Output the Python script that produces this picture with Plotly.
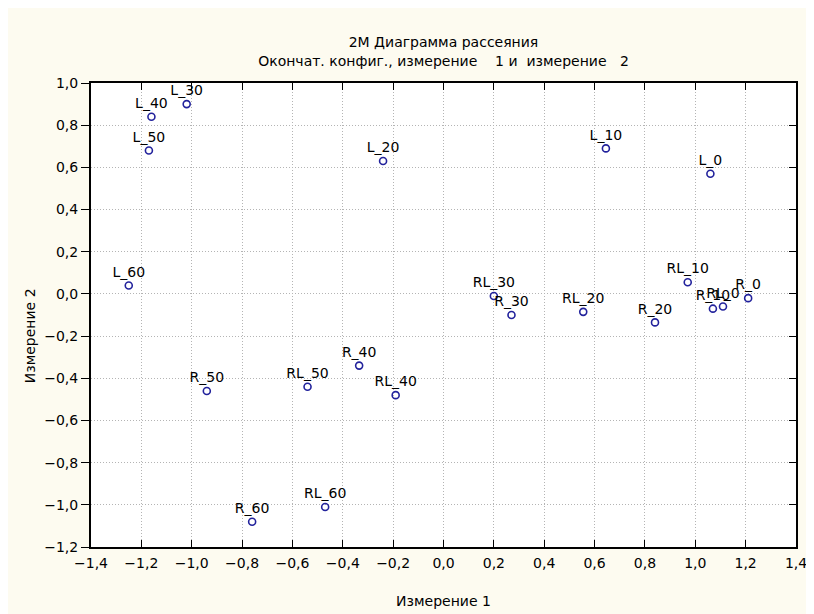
import plotly.graph_objects as go

labels = ["L_0", "L_10", "L_20", "L_30", "L_40", "L_50", "L_60",
          "R_0", "R_10", "R_20", "R_30", "R_40", "R_50", "R_60",
          "RL_0", "RL_10", "RL_20", "RL_30", "RL_40", "RL_50", "RL_60"]
dim1 = [1.06, 0.645, -0.24, -1.02, -1.16, -1.17, -1.25,
        1.21, 1.07, 0.84, 0.27, -0.335, -0.94, -0.76,
        1.11, 0.97, 0.555, 0.20, -0.19, -0.54, -0.47]
dim2 = [0.57, 0.69, 0.63, 0.90, 0.84, 0.68, 0.04,
        -0.02, -0.07, -0.135, -0.10, -0.34, -0.46, -1.08,
        -0.06, 0.055, -0.085, -0.01, -0.48, -0.44, -1.01]

x_ticks = [-1.4, -1.2, -1.0, -0.8, -0.6, -0.4, -0.2, 0.0, 0.2, 0.4, 0.6, 0.8, 1.0, 1.2, 1.4]
y_ticks = [1.0, 0.8, 0.6, 0.4, 0.2, 0.0, -0.2, -0.4, -0.6, -0.8, -1.0, -1.2]

nb = "\u00a0"
title_text = ("2M Диаграмма рассеяния<br>"
              "Окончат. конфиг., измерение" + nb * 4 + "1 и" + nb * 2 + "измерение" + nb * 3 + "2")
x_title = "Измерение 1"
y_title = "Измерение 2"

wide = "DejaVu Sans, Verdana, sans-serif"

fig = go.Figure()
fig.add_trace(go.Scatter(
    x=dim1, y=dim2, text=labels, mode="markers+text",
    textposition="top center",
    textfont=dict(family=wide, size=14, color="#000000"),
    marker=dict(symbol="circle-open", size=7, color="#22229c", line=dict(width=1.6, color="#22229c")),
    cliponaxis=False, showlegend=False,
))
# invisible trace to draw a right-side axis with inward ticks
fig.add_trace(go.Scatter(x=[dim1[0]], y=[dim2[0]], yaxis="y2", mode="markers",
                         marker=dict(opacity=0), showlegend=False, hoverinfo="skip"))

grid_dash = "1px,2px"

fig.update_layout(
    width=806, height=606,
    margin=dict(l=83, r=7, t=75, b=65),
    paper_bgcolor="#fdfbf0",
    plot_bgcolor="#ffffff",
    separators=", ",
    title=dict(text=title_text, x=0.5, xanchor="center", xref="paper",
               y=0.935, yanchor="top", yref="container",
               font=dict(family=wide, size=14, color="#000000")),
    font=dict(family=wide, size=14, color="#000000"),
    xaxis=dict(range=[-1.4, 1.4], tickvals=x_ticks, tickformat=".1f",
               showline=True, linecolor="#000000", linewidth=2, mirror="ticks",
               ticks="inside", ticklen=7, tickcolor="#000000",
               showgrid=True, gridcolor="#b4b4b4", griddash=grid_dash, gridwidth=1,
               zeroline=False, ticklabeloverflow="allow", ticklabelstandoff=2,
               title=dict(text=x_title, font=dict(family=wide, size=14), standoff=26),
               tickfont=dict(family=wide, size=14)),
    yaxis=dict(range=[-1.2, 1.0], tickvals=y_ticks, tickformat=".1f",
               showline=True, linecolor="#000000", linewidth=2, mirror=True,
               ticks="outside", ticklen=8, tickcolor="#000000",
               showgrid=True, gridcolor="#b4b4b4", griddash=grid_dash, gridwidth=1,
               zeroline=False, ticklabeloverflow="allow",
               tickfont=dict(family=wide, size=14)),
    yaxis2=dict(range=[-1.2, 1.0], tickvals=y_ticks, overlaying="y", side="right",
                showticklabels=False, ticks="inside", ticklen=7, tickcolor="#000000",
                showgrid=False, zeroline=False, showline=False),
    annotations=[dict(text=y_title, textangle=-90, xref="paper", yref="paper",
                      x=-0.086, y=0.455, xanchor="center", yanchor="middle",
                      showarrow=False, font=dict(family=wide, size=14, color="#000000"))],
)

fig.write_html("out.html")
